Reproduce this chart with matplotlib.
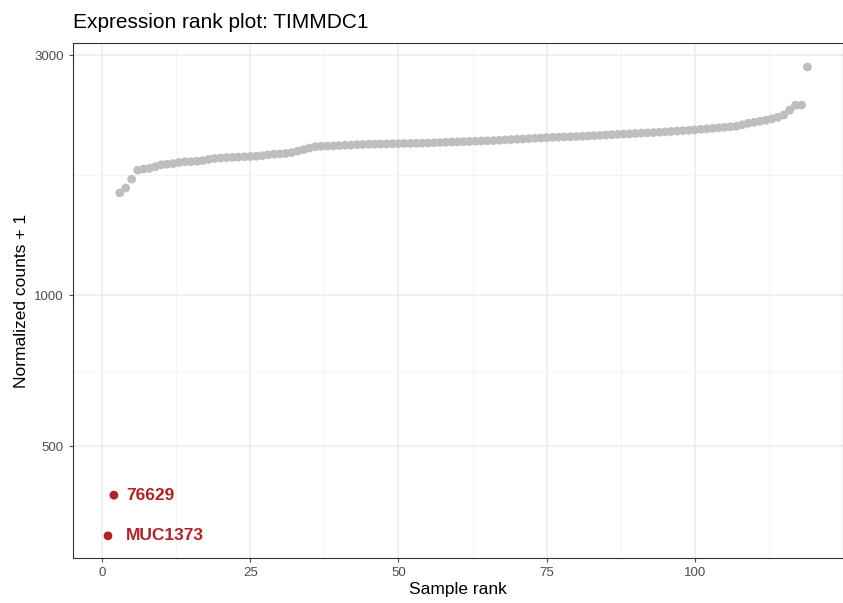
import matplotlib.pyplot as plt
import numpy as np

plt.rcParams['font.family'] = ['Liberation Sans', 'DejaVu Sans']

highlight_rank = [1, 2]
highlight_value = [332, 400]
highlight_label = ["MUC1373", "76629"]
label_x = [4.0, 4.0]

other_value = [
    1596, 1632, 1700, 1770, 1780, 1785, 1800, 1815, 1820, 1825,
    1835, 1840, 1842, 1845, 1850, 1860, 1868, 1872, 1876, 1878,
    1880, 1883, 1886, 1888, 1892, 1900, 1905, 1908, 1912, 1920,
    1932, 1945, 1960, 1972, 1976, 1978, 1980, 1982, 1985, 1987,
    1990, 1992, 1994, 1995, 1996, 1997, 1998, 2000, 2001, 2002,
    2003, 2004, 2006, 2008, 2010, 2012, 2014, 2016, 2018, 2020,
    2022, 2024, 2026, 2028, 2031, 2034, 2037, 2040, 2043, 2046,
    2049, 2052, 2055, 2058, 2060, 2062, 2064, 2066, 2068, 2071,
    2074, 2077, 2080, 2083, 2086, 2089, 2092, 2095, 2098, 2101,
    2104, 2107, 2110, 2114, 2118, 2122, 2126, 2130, 2135, 2140,
    2145, 2150, 2155, 2160, 2165, 2180, 2195, 2205, 2215, 2225,
    2240, 2255, 2280, 2330, 2385, 2385, 2840,
]
other_rank = list(range(3, 3 + len(other_value)))

fig = plt.figure(figsize=(8.43, 6.03), dpi=100)
ax = fig.add_axes([73 / 843, 45 / 603, 770 / 843, 515 / 603])
ax.set_yscale("log")
ax.set_xlim(-4.9, 125)
ax.set_ylim(300, 3170)

for v in [0, 25, 50, 75, 100]:
    ax.axvline(v, color="#ebebeb", lw=1.1, zorder=0)
for v in [12.5, 37.5, 62.5, 87.5, 112.5]:
    ax.axvline(v, color="#f2f2f2", lw=0.6, zorder=0)
for v in [500, 1000, 3000]:
    ax.axhline(v, color="#ebebeb", lw=1.1, zorder=0)
for v in [np.sqrt(500 * 1000), np.sqrt(1000 * 3000)]:
    ax.axhline(v, color="#f2f2f2", lw=0.6, zorder=0)

ax.scatter(other_rank, other_value, s=40, color="#bebebe", edgecolors="none", zorder=2)
ax.scatter(highlight_rank, highlight_value, s=40, color="#b22222", edgecolors="none", zorder=3)
for lx, v, lab in zip(label_x, highlight_value, highlight_label):
    ax.text(lx, v, lab, va="center", ha="left", fontsize=12.5,
            fontweight="bold", color="#b22222")

ax.set_xticks([0, 25, 50, 75, 100])
ax.set_yticks([500, 1000, 3000])
ax.set_yticklabels(["500", "1000", "3000"])
ax.yaxis.set_minor_locator(plt.NullLocator())
ax.tick_params(colors="#4d4d4d", labelsize=9.5, length=3)
for s in ax.spines.values():
    s.set_color("#333333")
    s.set_linewidth(0.8)

ax.set_xlabel("Sample rank", fontsize=12.5, labelpad=2)
ax.set_ylabel("Normalized counts + 1", fontsize=12.5)
fig.text(73 / 843, 1 - 22 / 603, "Expression rank plot: TIMMDC1", fontsize=15, va="center", ha="left")

fig.savefig("out.png", dpi=100)
